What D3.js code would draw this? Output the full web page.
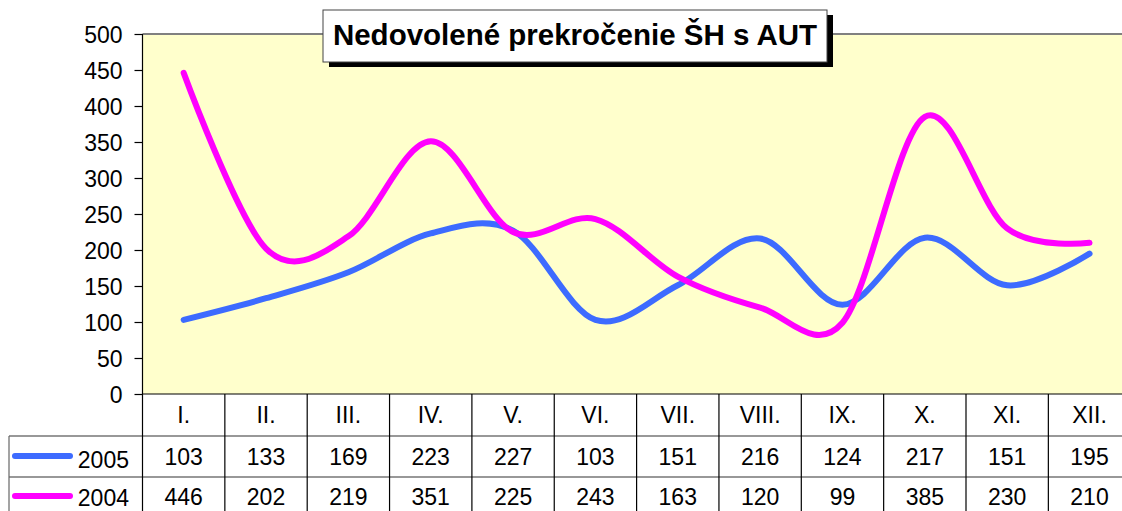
<!DOCTYPE html>
<html><head><meta charset="utf-8">
<script src="https://cdn.jsdelivr.net/npm/d3@7"></script>
<style>html,body{margin:0;padding:0;background:#fff;overflow:hidden}</style>
</head><body>
<svg id="c" width="1122" height="511"></svg>
<script>
const categories = ["I.","II.","III.","IV.","V.","VI.","VII.","VIII.","IX.","X.","XI.","XII."];
const series2005 = [103,133,169,223,227,103,151,216,124,217,151,195];
const series2004 = [446,202,219,351,225,243,163,120,99,385,230,210];
const seriesNames = ["2005","2004"];
const seriesColors = ["#3D6BFF","#FF00FF"];
const yTicks = [0,50,100,150,200,250,300,350,400,450,500];
const titleText = "Nedovolené prekročenie ŠH s AUT";

const svg = d3.select("#c");
const font = "'Liberation Sans', Arial, sans-serif";
const fs = 23;
const L = 142.5, R = 1130.7, T = 34, B = 394;
const rowH = [394, 436, 477, 518];
const tableLeft = 9;

const x = d3.scaleBand().domain(categories).range([L, R]).padding(0);
const y = d3.scaleLinear().domain([0, 500]).range([B, T]);

// plot background
svg.append("rect").attr("x", L).attr("y", T).attr("width", R - L).attr("height", B - T).attr("fill", "#FFFFCC");
// top border
svg.append("line").attr("x1", L).attr("x2", R).attr("y1", T).attr("y2", T).attr("stroke", "#808080").attr("stroke-width", 2);

// y axis
const yAxis = d3.axisLeft(y).tickValues(yTicks).tickSize(8).tickPadding(12);
const ga = svg.append("g").attr("transform", `translate(${L},0)`).call(yAxis);
ga.select(".domain").remove();
ga.selectAll(".tick line").attr("stroke", "#000").attr("stroke-width", 1.2);
ga.selectAll(".tick text").attr("font-family", font).attr("font-size", fs).attr("fill", "#000").attr("dy", "0.35em");

// table lines
const tg = svg.append("g");
tg.append("line").attr("x1", L).attr("x2", R).attr("y1", B).attr("y2", B).attr("stroke", "#000").attr("stroke-width", 1.2);
[rowH[1], rowH[2]].forEach(yy => {
  tg.append("line").attr("x1", tableLeft).attr("x2", R).attr("y1", yy).attr("y2", yy).attr("stroke", "#333").attr("stroke-width", 1.2);
});
tg.append("line").attr("x1", tableLeft).attr("x2", tableLeft).attr("y1", rowH[1]).attr("y2", 511).attr("stroke", "#666").attr("stroke-width", 1.2);
categories.forEach((c, i) => {
  const xx = x(c);
  tg.append("line").attr("x1", xx).attr("x2", xx).attr("y1", i === 0 ? T : B).attr("y2", 511).attr("stroke", "#000").attr("stroke-width", 1.2);
});

// category labels
categories.forEach(c => {
  svg.append("text").attr("x", x(c) + x.bandwidth() / 2).attr("y", 423).attr("text-anchor", "middle")
    .attr("font-family", font).attr("font-size", fs).text(c);
});

// values in table + legend keys
[series2005, series2004].forEach((s, si) => {
  const base = si === 0 ? 465 : 505;
  s.forEach((v, i) => {
    svg.append("text").attr("x", x(categories[i]) + x.bandwidth() / 2).attr("y", base).attr("text-anchor", "middle")
      .attr("font-family", font).attr("font-size", fs).text(v);
  });
  const ly = si === 0 ? 456 : 496;
  svg.append("line").attr("x1", 15).attr("x2", 70).attr("y1", ly).attr("y2", ly)
    .attr("stroke", seriesColors[si]).attr("stroke-width", 6).attr("stroke-linecap", "round");
  svg.append("text").attr("x", 129).attr("y", si === 0 ? base + 3 : 506).attr("text-anchor", "end")
    .attr("font-family", font).attr("font-size", fs).text(seriesNames[si]);
});

// lines
const line = d3.line().x((d, i) => x(categories[i]) + x.bandwidth() / 2).y(d => y(d)).curve(d3.curveCardinal.tension(0));
const lg = svg.append("g");
[series2005, series2004].forEach((s, si) => {
  lg.append("path").attr("d", line(s)).attr("fill", "none").attr("stroke", seriesColors[si])
    .attr("stroke-width", 6).attr("stroke-linecap", "round").attr("stroke-linejoin", "round");
});

// title
const bx = 323, by = 10, bw = 504, bh = 52;
svg.append("rect").attr("x", bx + 6).attr("y", by + 5).attr("width", bw).attr("height", bh).attr("fill", "#000");
svg.append("rect").attr("x", bx).attr("y", by).attr("width", bw).attr("height", bh).attr("fill", "#fff").attr("stroke", "#444").attr("stroke-width", 1);
svg.append("text").attr("x", bx + bw / 2).attr("y", 45).attr("text-anchor", "middle")
  .attr("font-family", font).attr("font-weight", "bold").attr("font-size", 29.5).text(titleText);
</script>
</body></html>
